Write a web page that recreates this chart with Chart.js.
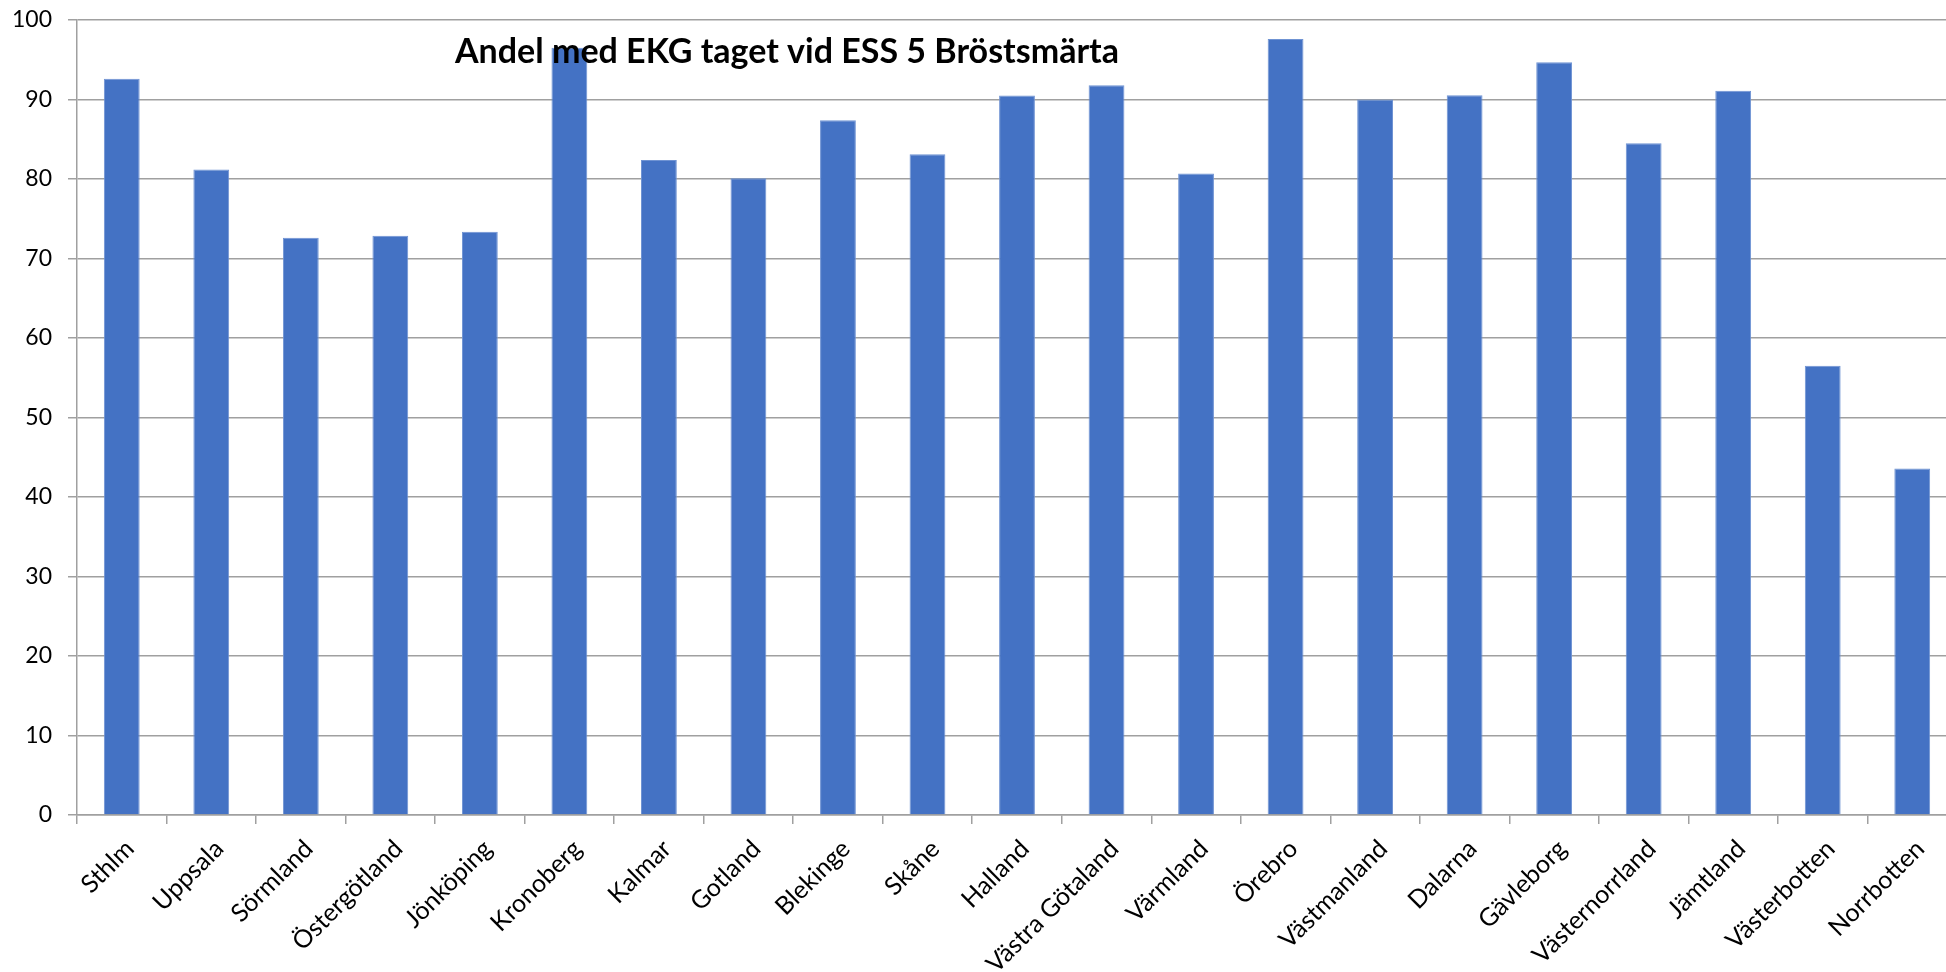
<!DOCTYPE html>
<html><head><meta charset="utf-8">
<script src="https://cdn.jsdelivr.net/npm/chart.js@4"></script>
<style>
html,body{margin:0;padding:0;overflow:hidden;background:#fff;width:1946px;height:972px}
#c{position:absolute;left:0;top:0}
</style>
</head><body>
<canvas id="c" width="1957" height="972"></canvas>
<script>
const categories = ['Sthlm','Uppsala','Sörmland','Östergötland','Jönköping','Kronoberg','Kalmar','Gotland','Blekinge','Skåne','Halland','Västra Götaland','Värmland','Örebro','Västmanland','Dalarna','Gävleborg','Västernorrland','Jämtland','Västerbotten','Norrbotten'];
const values = [92.6,81.2,72.6,72.85,73.35,96.5,82.4,80.1,87.4,83.1,90.5,91.8,80.7,97.6,90.0,90.55,94.7,84.5,91.1,56.5,43.6];
const yMin = 0, yMax = 100, yStep = 10;
const chartTitle = 'Andel med EKG taget vid ESS 5 Bröstsmärta';

const gridColor = '#a0a0a0';
const titlePlugin = {
  id: 'insideTitle',
  afterDatasetsDraw(chart) {
    const ctx = chart.ctx, a = chart.chartArea;
    ctx.save();
    ctx.font = 'bold 34px Lato';
    ctx.fillStyle = '#000';
    ctx.textAlign = 'center';
    ctx.textBaseline = 'middle';
    ctx.fillText(chartTitle, a.left + 710, a.top + 32);
    ctx.restore();
  }
};

new Chart(document.getElementById('c'), {
  type: 'bar',
  data: {
    labels: categories,
    datasets: [{
      data: values,
      backgroundColor: '#4472c4',
      borderColor: '#6f93d3',
      borderWidth: 1,
      barPercentage: 0.4,
      categoryPercentage: 1.0
    }]
  },
  options: {
    responsive: false,
    animation: false,
    layout: { padding: { top: 20, left: 0, right: 0, bottom: 0 } },
    plugins: { legend: { display: false }, tooltip: { enabled: false }, title: { display: false } },
    scales: {
      x: {
        offset: true,
        grid: { display: true, drawOnChartArea: false, drawTicks: true, tickLength: 9, color: gridColor, lineWidth: 1.5, offset: true },
        border: { display: true, color: gridColor, width: 1.5 },
        ticks: { minRotation: 45, maxRotation: 45, autoSkip: false, color: '#000', font: { family: 'Lato', size: 25 }, padding: 10, labelOffset: 8 },
        afterFit(s) { s.height = 157; s.paddingLeft = 0; s.paddingRight = 0; }
      },
      y: {
        min: yMin, max: yMax,
        grid: { color: gridColor, lineWidth: 1.5, tickLength: 9 },
        border: { display: true, color: gridColor, width: 1.5 },
        ticks: { stepSize: yStep, color: '#000', font: { family: 'Lato', size: 23 }, padding: 16 },
        afterFit(s) { s.width = 77; s.paddingTop = 0; s.paddingBottom = 0; }
      }
    }
  },
  plugins: [titlePlugin]
});
</script>
</body></html>
